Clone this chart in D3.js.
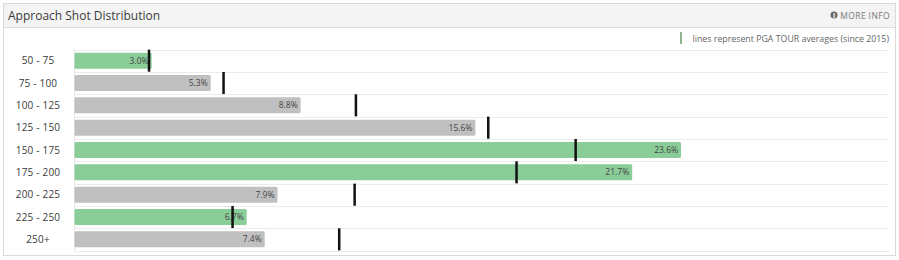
<!DOCTYPE html>
<html>
<head>
<meta charset="utf-8">
<script src="https://d3js.org/d3.v7.min.js"></script>
<style>
  body { margin: 0; background: #fff; }
  text { font-family: "Open Sans", sans-serif; }
</style>
</head>
<body>
<div id="chart"></div>
<script>
// Distance buckets (yards)
var ranges = ["50 - 75", "75 - 100", "100 - 125", "125 - 150", "150 - 175",
              "175 - 200", "200 - 225", "225 - 250", "250+"];
// Player share of approach shots (%)
var shares = [3.0, 5.3, 8.8, 15.6, 23.6, 21.7, 7.9, 6.7, 7.4];
// PGA TOUR averages since 2015 (%)
var tourAvg = [2.9, 5.8, 10.95, 16.1, 19.5, 17.2, 10.9, 6.15, 10.3];
// green where player is at or above tour average
var aboveAvg = [true, false, false, false, true, true, false, true, false];

var svgWidth = 899, svgHeight = 260;

var svg = d3.select("#chart").append("svg")
  .attr("width", svgWidth)
  .attr("height", svgHeight);

// panel + header
svg.append("rect")
  .attr("x", 3.5).attr("y", 3.5)
  .attr("width", 892).attr("height", 252)
  .attr("fill", "#fff")
  .attr("stroke", "#d9d9d9");

svg.append("rect")
  .attr("x", 4).attr("y", 4)
  .attr("width", 891).attr("height", 23)
  .attr("fill", "#f4f4f4");

svg.append("line")
  .attr("x1", 4).attr("x2", 895)
  .attr("y1", 27.5).attr("y2", 27.5)
  .attr("stroke", "#dcdcdc");

svg.append("text")
  .attr("x", 8).attr("y", 20)
  .attr("font-size", 12)
  .attr("fill", "#3a3a3a")
  .text("Approach Shot Distribution");

// more info
svg.append("circle")
  .attr("cx", 834).attr("cy", 15).attr("r", 3.5)
  .attr("fill", "#666");
svg.append("text")
  .attr("x", 834).attr("y", 17.5)
  .attr("text-anchor", "middle")
  .attr("font-size", 7).attr("font-weight", "bold")
  .attr("fill", "#fff")
  .text("i");
svg.append("text")
  .attr("x", 890).attr("y", 18.5)
  .attr("text-anchor", "end")
  .attr("font-size", 8.5)
  .attr("fill", "#777")
  .attr("letter-spacing", 0.4)
  .text("MORE INFO");

// legend
svg.append("line")
  .attr("x1", 681).attr("x2", 681)
  .attr("y1", 32).attr("y2", 44)
  .attr("stroke", "#6a9a6e").attr("stroke-width", 1.5);
svg.append("text")
  .attr("x", 889).attr("y", 41.5)
  .attr("text-anchor", "end")
  .attr("font-size", 8.8)
  .attr("fill", "#666")
  .text("lines represent PGA TOUR averages (since 2015)");

// scales
var x = d3.scaleLinear()
  .domain([0, 30])
  .range([74.5, 74.5 + 30 * 25.7]);

var y = d3.scaleBand()
  .domain(ranges)
  .range([49.5, 250.5])
  .paddingInner(0.28)
  .paddingOuter(0.14);

var step = y.step();

// grid lines between rows
svg.append("g").selectAll("line")
  .data(ranges)
  .enter().append("line")
  .attr("x1", 74).attr("x2", 889)
  .attr("y1", d => Math.round(y(d) - y.paddingOuter() * step) + 0.5)
  .attr("y2", d => Math.round(y(d) - y.paddingOuter() * step) + 0.5)
  .attr("stroke", "#ececec");

svg.append("line")
  .attr("x1", 74).attr("x2", 889)
  .attr("y1", 251.5).attr("y2", 251.5)
  .attr("stroke", "#ececec");

svg.append("line")
  .attr("x1", 74.5).attr("x2", 74.5)
  .attr("y1", 49).attr("y2", 252)
  .attr("stroke", "#e6e6e6");

// row labels
svg.append("g").selectAll("text")
  .data(ranges)
  .enter().append("text")
  .attr("x", 38)
  .attr("y", d => y(d) + y.bandwidth() / 2 + 3.5)
  .attr("text-anchor", "middle")
  .attr("font-size", 10)
  .attr("letter-spacing", 0.2)
  .attr("fill", "#3a3a3a")
  .text(d => d);

// bars
svg.append("g").selectAll("rect")
  .data(shares)
  .enter().append("rect")
  .attr("x", x(0))
  .attr("y", (d, i) => y(ranges[i]))
  .attr("width", d => x(d) - x(0))
  .attr("height", y.bandwidth())
  .attr("rx", 1.5)
  .attr("fill", (d, i) => aboveAvg[i] ? "#8acd98" : "#c0c0c0");

// value labels
svg.append("g").selectAll("text")
  .data(shares)
  .enter().append("text")
  .attr("x", d => x(d) - 3)
  .attr("y", (d, i) => y(ranges[i]) + y.bandwidth() / 2 + 3)
  .attr("text-anchor", "end")
  .attr("font-family", "DejaVu Sans Mono, monospace")
  .attr("font-size", 8.5)
  .attr("fill", "#444")
  .text(d => d.toFixed(1) + "%");

// tour average markers
svg.append("g").selectAll("line")
  .data(tourAvg)
  .enter().append("line")
  .attr("x1", d => x(d)).attr("x2", d => x(d))
  .attr("y1", (d, i) => y(ranges[i]) - 3)
  .attr("y2", (d, i) => y(ranges[i]) + y.bandwidth() + 3)
  .attr("stroke", "#111")
  .attr("stroke-width", 2.5);
</script>
</body>
</html>
